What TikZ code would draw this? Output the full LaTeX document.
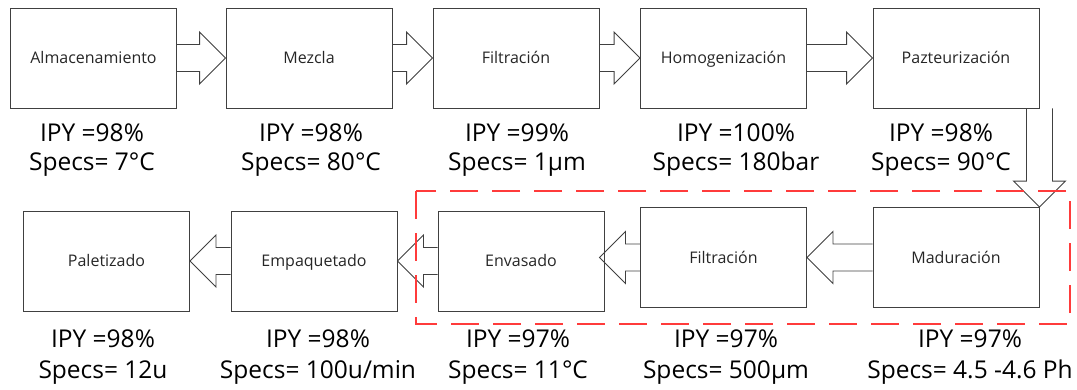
\documentclass[tikz,border=0pt]{standalone}
\usepackage{fontspec}
\setmainfont{Open Sans}
\usetikzlibrary{calc}
\definecolor{edgegray}{HTML}{404040}
\definecolor{dashred}{HTML}{FF3B3B}
\definecolor{labelgray}{HTML}{262626}
\newcommand\rblock[2]{%
  \draw[blockarrow] ($(#1.east)+(0,-13.5)$) -- ($(#2)+(-26,-13.5)$) -- ($(#2)+(-26,-26)$) -- (#2)
    -- ($(#2)+(-26,26)$) -- ($(#2)+(-26,13.5)$) -- ($(#1.east)+(0,13.5)$);}
\newcommand\lblock[2]{%
  \draw[blockarrow] ($(#1.west)+(0,-13.5)$) -- ($(#2)+(26,-13.5)$) -- ($(#2)+(26,-26)$) -- (#2)
    -- ($(#2)+(26,26)$) -- ($(#2)+(26,13.5)$) -- ($(#1.west)+(0,13.5)$);}
\begin{document}
\begin{tikzpicture}[x=1pt,y=-1pt,
  stage/.style={draw=edgegray, line width=0.9pt, minimum width=166pt, minimum height=100pt,
    inner sep=0pt, font=\fontsize{16}{19}\selectfont, text=labelgray, text height=11.5pt, text depth=0pt},
  metric/.style={anchor=base, inner sep=0pt, font=\fontsize{24.5}{30}\selectfont, text=black},
  blockarrow/.style={draw=edgegray, line width=0.9pt, line join=miter},
  frame/.style={draw=dashred, line width=2pt, dash pattern=on 28pt off 14pt}]
\useasboundingbox (0,0) rectangle (1077,389);
% top row
\node[stage] (alm) at (93.5,58) {Almacenamiento};
\node[stage] (mez) at (309,58) {Mezcla};
\node[stage] (fil) at (516,58) {Filtración};
\node[stage] (hom) at (723.5,58) {Homogenización};
\node[stage] (paz) at (956,58) {Pazteurización};
% bottom row
\node[stage] (pal) at (106.5,261) {Paletizado};
\node[stage] (emp) at (314,261) {Empaquetado};
\node[stage] (env) at (521,261) {Envasado};
\node[stage] (filb) at (723.5,257.5) {Filtración};
\node[stage] (mad) at (956,257.5) {Maduración};
% metrics top
\node[metric] (ipy1) at (92,141) {IPY =98\%};
\node[metric] (spc1) at (92,170) {Specs= 7°C};
\node[metric] (ipy2) at (311,141) {IPY =98\%};
\node[metric] (spc2) at (311,170) {Specs= 80°C};
\node[metric] (ipy3) at (517,141) {IPY =99\%};
\node[metric] (spc3) at (517,170) {Specs= 1µm};
\node[metric] (ipy4) at (736,141) {IPY =100\%};
\node[metric] (spc4) at (736,170) {Specs= 180bar};
\node[metric] (ipy5) at (941,141) {IPY =98\%};
\node[metric] (spc5) at (941,170) {Specs= 90°C};
% metrics bottom
\node[metric] (ipy6) at (103,347) {IPY =98\%};
\node[metric] (spc6) at (103,378) {Specs= 12u};
\node[metric] (ipy7) at (318,347) {IPY =98\%};
\node[metric] (spc7) at (318,378) {Specs= 100u/min};
\node[metric] (ipy8) at (518,347) {IPY =97\%};
\node[metric] (spc8) at (518,378) {Specs= 11°C};
\node[metric] (ipy9) at (726,347) {IPY =97\%};
\node[metric] (spc9) at (726,378) {Specs= 500µm};
\node[metric] (ipy10) at (970,347) {IPY =97\%};
\node[metric] (spc10) at (970,378) {Specs= 4.5 -4.6 Ph};
% top arrows
\rblock{alm}{mez.west}
\rblock{mez}{fil.west}
\rblock{fil}{hom.west}
\rblock{hom}{paz.west}
% down arrow
\draw[blockarrow] ($(paz.south east)+(-13,0)$) -- ($(mad.north east)+(-13,-26)$) -- ($(mad.north east)+(-26,-26)$)
  -- (mad.north east) -- ($(mad.north east)+(26,-26)$) -- ($(mad.north east)+(13,-26)$) -- ($(paz.south east)+(13,0)$);
% bottom arrows
\coordinate (t1) at (filb.east |- mad.west);
\coordinate (t2) at ($(env.east |- filb.west)+(-5,0)$);
\coordinate (t3) at (emp.east |- env.west);
\coordinate (t4) at (pal.east |- emp.west);
\lblock{mad}{t1}
\lblock{filb}{t2}
\lblock{env}{t3}
\lblock{emp}{t4}
% dashed frame
\draw[frame] (416,191) rectangle (1070,324);
\end{tikzpicture}
\end{document}
